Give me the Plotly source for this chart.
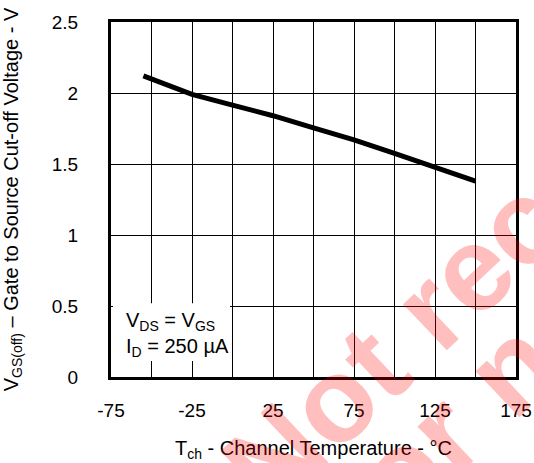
import plotly.graph_objects as go

# Data
temps = [-55, -25, 0, 25, 50, 75, 100, 125, 150]
vgs_off = [2.12, 1.99, 1.915, 1.84, 1.755, 1.67, 1.575, 1.475, 1.38]

x_ticks = [-75, -25, 25, 75, 125, 175]
y_ticks = [0, 0.5, 1, 1.5, 2, 2.5]

FONT = "Liberation Sans, Arial, sans-serif"
CLEAR = "rgba(0,0,0,0)"

fig = go.Figure()
fig.add_trace(go.Scatter(x=temps, y=vgs_off, mode="lines", hoverinfo="skip",
                         line=dict(color="black", width=5), showlegend=False))

fig.update_layout(
    width=534, height=463,
    margin=dict(l=111, r=18, t=22, b=86),
    paper_bgcolor="white", plot_bgcolor="white",
    font=dict(family=FONT, size=19, color="black"),
)

fig.update_xaxes(
    range=[-75, 175], tickvals=x_ticks, ticktext=[str(v) for v in x_ticks],
    showgrid=True, gridcolor="black", gridwidth=1,
    minor=dict(dtick=25, tick0=-75, showgrid=True, gridcolor="black", gridwidth=1),
    showline=True, linecolor="black", linewidth=3, mirror=True,
    ticks="outside", ticklen=14, tickcolor=CLEAR, zeroline=False, automargin=False,
    title=dict(text="T<sub>ch</sub> - Channel Temperature - °C", standoff=22,
               font=dict(size=20)),
)
fig.update_yaxes(
    range=[0, 2.5], tickvals=y_ticks, ticktext=["0", "0.5", "1", "1.5", "2", "2.5"],
    showgrid=True, gridcolor="black", gridwidth=1,
    showline=True, linecolor="black", linewidth=3, mirror=True,
    ticks="outside", ticklen=26, tickcolor=CLEAR, zeroline=False, automargin=False,
    title=dict(text="V<sub>GS(off)</sub> – Gate to Source Cut-off Voltage - V", standoff=30,
               font=dict(size=20)),
)

# Condition box (white background hiding the grid)
fig.add_shape(type="rect", xref="paper", yref="paper",
              x0=0.005, x1=0.294, y0=0.045, y1=0.208,
              fillcolor="white", line=dict(width=0), layer="above")
fig.add_annotation(
    xref="paper", yref="paper", x=0.032, y=0.12, xanchor="left", yanchor="middle",
    text="V<sub>DS</sub> = V<sub>GS</sub><br>I<sub>D</sub> = 250 µA",
    align="left", showarrow=False, font=dict(size=20),
)

# Watermark
wm_color = "rgba(255,0,0,0.25)"
fig.add_annotation(xref="paper", yref="paper", x=1.27, y=0.715,
                   xanchor="center", yanchor="middle",
                   text="<b>Not recommended</b>", showarrow=False, textangle=-43.5,
                   font=dict(size=120, color=wm_color, family=FONT))
fig.add_annotation(xref="paper", yref="paper", x=1.335, y=0.402,
                   xanchor="center", yanchor="middle",
                   text="<b>for new design</b>", showarrow=False, textangle=-43.5,
                   font=dict(size=120, color=wm_color, family=FONT))

fig.write_html("out.html", config={"displayModeBar": False, "staticPlot": True},
               post_script="document.body.style.margin='0';document.body.style.overflow='hidden';")
